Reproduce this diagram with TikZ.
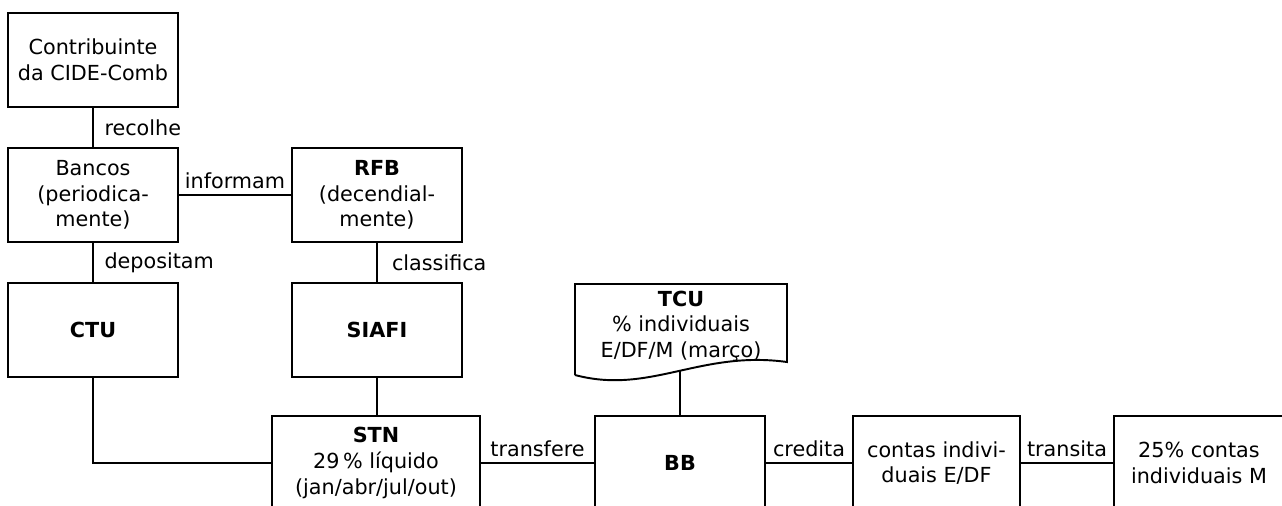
\documentclass[tikz,border=0pt]{standalone}
\usepackage{fontspec}
\setmainfont{DejaVu Sans}
\usetikzlibrary{positioning}

\begin{document}
\begin{tikzpicture}[x=0.02cm,y=-0.02cm,line width=1.1pt,
    font=\fontsize{11.8}{14.6}\selectfont,
    box/.style={draw,align=center,minimum width=3.4cm,minimum height=1.88cm,inner sep=2pt},
    lbl/.style={inner sep=3pt}]
       \useasboundingbox (0,0) rectangle (1282,505);
       \clip (0,0) rectangle (1282,505);

       \node[box](contrib) at (93,60) {Contribuinte\\da CIDE-Comb};
       \node[box](bancos) at (93,195) {Bancos\\(periodica-\\mente)};
       \node[box](rfb) at (377,195) {\textbf{RFB}\\(decendial-\\mente)};
       \node[box](ctu) at (93,330) {\textbf{CTU}};
       \node[box](siafi) at (377,330) {\textbf{SIAFI}};

       \node[align=center](tcu) at (681,326) {\textbf{TCU}\\\% individuais\\E/DF/M (março)};
       \draw (575,375) -- (575,284) -- (787,284) -- (787,362)
             .. controls (700,350) and (650,395) .. (575,375);
       \coordinate(tcufoot) at (680,371);

       \node[box,minimum width=4.16cm](stn) at (376,463) {\textbf{STN}\\29\,\% líquido\\(jan/abr/jul/out)};
       \node[box](bb) at (680,463) {\textbf{BB}};
       \node[box,minimum width=3.34cm](contas) at (936.5,463) {contas indivi-\\duais E/DF};
       \node[box](quota) at (1199,463) {25\% contas\\individuais M};

       \draw (contrib) -- (bancos) node[lbl,midway,right=3pt] {recolhe};
       \draw (bancos) -- (rfb) node[lbl,midway,above] {informam};
       \draw (bancos) -- (ctu) node[lbl,midway,right=3pt] {depositam};
       \draw (rfb) -- (siafi) node[lbl,midway,right=5pt] {classifica};
       \draw (ctu.south) |- (stn.west);
       \draw (siafi.south) -- (siafi.south |- stn.north);
       \draw (tcufoot) -- (bb.north);
       \draw (stn) -- (bb) node[lbl,midway,above] {transfere};
       \draw (bb) -- (contas) node[lbl,midway,above] {credita};
       \draw (contas) -- (quota) node[lbl,midway,above] {transita};

      \end{tikzpicture}
\end{document}
